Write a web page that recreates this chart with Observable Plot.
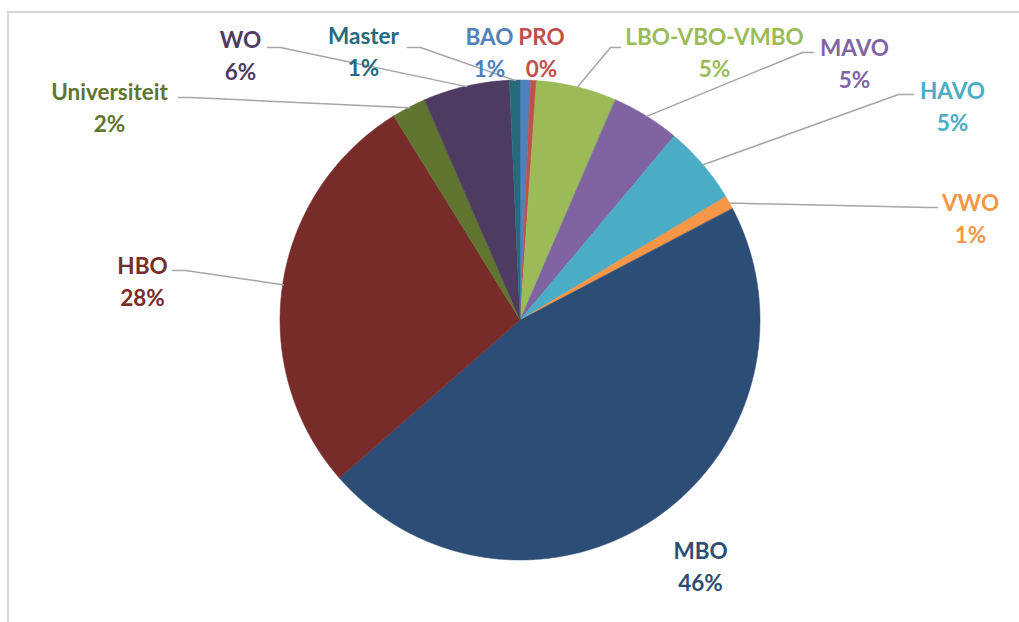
<!DOCTYPE html>
<html>
<head>
<meta charset="utf-8">
<script src="https://cdn.jsdelivr.net/npm/d3@7"></script>
<script src="https://cdn.jsdelivr.net/npm/@observablehq/plot@0.6"></script>
<style>
  html, body { margin: 0; padding: 0; background: #fff; overflow: hidden; }
  #wrap { position: relative; width: 1019px; height: 622px; overflow: hidden; }
  #frame { position: absolute; left: 7px; top: 11px; width: 2000px; height: 2000px; border: 2px solid #d9d9d9; box-sizing: border-box; }
  #chart { position: absolute; left: 0; top: 0; }
</style>
</head>
<body>
<div id="wrap"><div id="frame"></div><div id="chart"></div></div>
<script>
// ---- data ----
const categories = ["BAO", "PRO", "LBO-VBO-VMBO", "MAVO", "HAVO", "VWO", "MBO", "HBO", "Universiteit", "WO", "Master"];
const values = [0.7, 0.4, 5.4, 4.6, 5.3, 0.9, 46.2, 27.6, 2.3, 5.8, 0.7];
const colors = ["#4F81BD", "#C0504D", "#9BBB59", "#8064A2", "#4BACC6", "#F79646", "#2C4D75", "#772C2A", "#5F7530", "#4D3B62", "#276A7C"];

// ---- layout (label placement, pixels in the 1019x622 frame) ----
const cx = 520, cy = 320, R = 240;
const toU = (px) => (px - cx) / R;
const toV = (py) => (cy - py) / R;
const labelLayout = {
  "BAO":          {x: 489, y: 50},
  "PRO":          {x: 541, y: 50},
  "LBO-VBO-VMBO": {x: 714, y: 50, leader: [[620, 47], [610, 47]]},
  "MAVO":         {x: 854, y: 61, leader: [[813, 52], [802, 52]]},
  "HAVO":         {x: 952, y: 104, leader: [[913, 94], [898, 94]]},
  "VWO":          {x: 970, y: 216, leader: [[937, 207], [928, 207]]},
  "MBO":          {x: 700, y: 564},
  "HBO":          {x: 142, y: 279, leader: [[172, 270], [185, 270]]},
  "Universiteit": {x: 109, y: 105, leader: [[178, 97], [190, 97]]},
  "WO":           {x: 240, y: 53, leader: [[267, 47], [280, 47]]},
  "Master":       {x: 363, y: 49, leader: [[407, 47], [420, 47]]}
};

// ---- derived ----
const total = d3.sum(values);
const arcs = d3.pie().sort(null).value(d => d)(values);

const slicePts = [];
const labels = [];
const leaders = [];
arcs.forEach((a, i) => {
  const cat = categories[i];
  const n = Math.max(2, Math.ceil((a.endAngle - a.startAngle) / (Math.PI / 360)));
  for (let k = 0; k <= n; k++) {
    const t = a.startAngle + (a.endAngle - a.startAngle) * k / n;
    slicePts.push({cat, x: Math.sin(t), y: Math.cos(t), x0: 0, y0: 0});
  }
  const L = labelLayout[cat];
  const pct = Math.round(values[i] / total * 100) + "%";
  labels.push({cat, x: toU(L.x), y: toV(L.y), text: cat + "\n" + pct});
  if (L.leader) {
    const mid = (a.startAngle + a.endAngle) / 2;
    L.leader.forEach(([px, py]) => leaders.push({cat, x: toU(px), y: toV(py)}));
    leaders.push({cat, x: Math.sin(mid), y: Math.cos(mid)});
  }
});

const chart = Plot.plot({
  width: 1019,
  height: 622,
  marginLeft: 280,
  marginRight: 259,
  marginTop: 80,
  marginBottom: 62,
  x: {domain: [-1, 1], axis: null},
  y: {domain: [-1, 1], axis: null},
  color: {domain: categories, range: colors},
  style: {background: "transparent", overflow: "visible"},
  marks: [
    Plot.area(slicePts, {x1: "x", y1: "y", x2: "x0", y2: "y0", z: "cat", fill: "cat", stroke: "cat", strokeWidth: 0.5}),
    Plot.line(leaders, {x: "x", y: "y", z: "cat", stroke: "#A6A6A6", strokeWidth: 1.5}),
    Plot.text(labels, {x: "x", y: "y", text: "text", fill: "cat", fontSize: 22.5, fontWeight: "bold", fontFamily: "Lato", lineHeight: 1.45, lineAnchor: "middle", textAnchor: "middle"})
  ]
});
document.getElementById("chart").appendChild(chart);
</script>
</body>
</html>
